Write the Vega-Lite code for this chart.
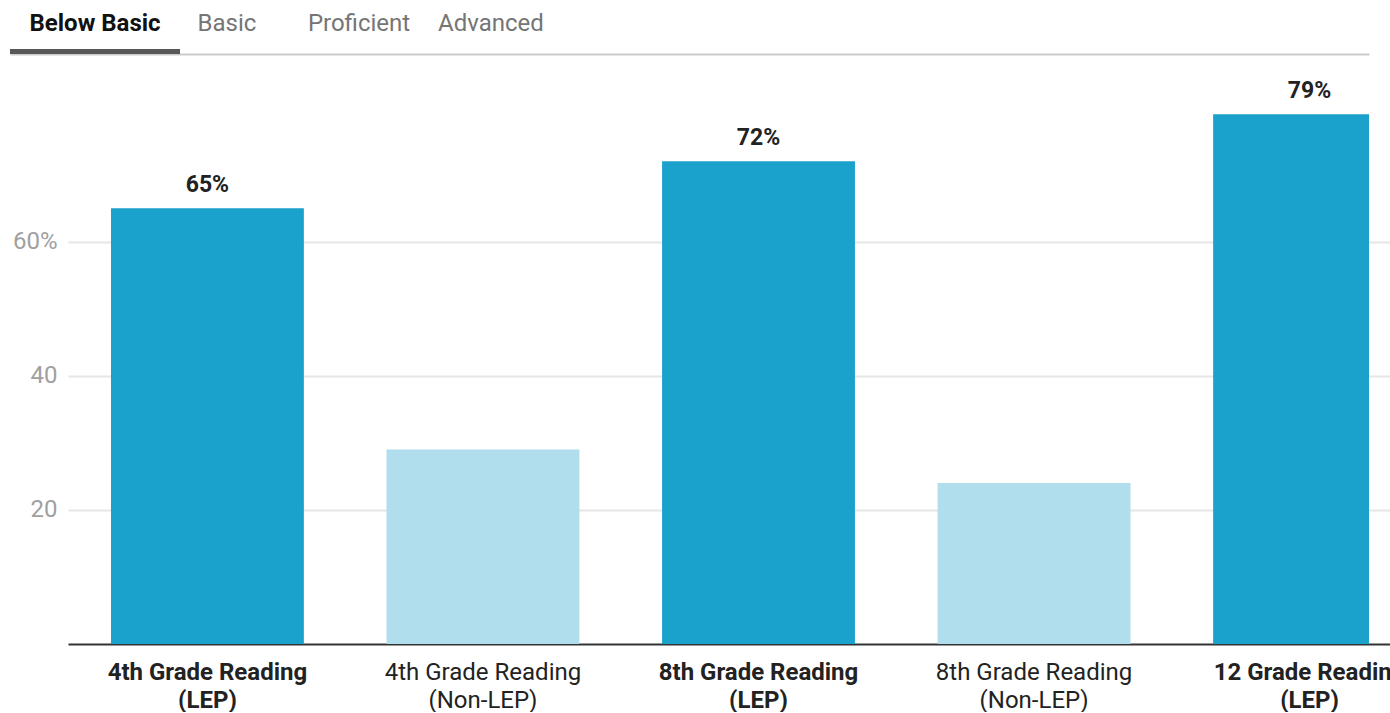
{
  "$schema": "https://vega.github.io/schema/vega-lite/v6.json",
  "padding": {"left": 10, "top": 0, "right": 0, "bottom": 0},
  "bounds": "flush",
  "spacing": 2,
  "config": {"view": {"stroke": null}, "font": "Roboto"},
  "datasets": {
    "tabs": [
      {"tab": "Below Basic", "selected": true},
      {"tab": "Basic", "selected": false},
      {"tab": "Proficient", "selected": false},
      {"tab": "Advanced", "selected": false}
    ],
    "scores": [
      {"category": "4th Grade Reading (LEP)", "group": "LEP", "value": 65},
      {"category": "4th Grade Reading (Non-LEP)", "group": "Non-LEP", "value": 29},
      {"category": "8th Grade Reading (LEP)", "group": "LEP", "value": 72},
      {"category": "8th Grade Reading (Non-LEP)", "group": "Non-LEP", "value": 24},
      {"category": "12 Grade Reading (LEP)", "group": "LEP", "value": 79}
    ]
  },
  "vconcat": [
    {
      "width": 1301,
      "height": 47,
      "data": {"name": "tabs"},
      "encoding": {
        "x": {
          "field": "tab", "type": "nominal", "sort": null, "axis": null,
          "scale": {"type": "band", "domain": ["Below Basic", "Basic", "Proficient", "Advanced"], "range": [-39, 489], "paddingInner": 0, "paddingOuter": 0}
        },
        "text": {"field": "tab"}
      },
      "layer": [
        {"transform": [{"filter": "datum.selected"}], "mark": {"type": "text", "fontSize": 24, "fontWeight": "bold", "color": "#111111", "baseline": "middle"}},
        {"transform": [{"filter": "!datum.selected"}], "mark": {"type": "text", "fontSize": 24, "color": "#757575", "baseline": "middle"}}
      ]
    },
    {
      "width": 1301,
      "height": 5,
      "data": {"name": "tabs"},
      "transform": [{"filter": "datum.selected"}],
      "mark": {"type": "bar", "color": "#585858"},
      "encoding": {
        "x": {
          "field": "tab", "type": "nominal", "sort": null,
          "scale": {"type": "band", "range": [-58, 1301], "paddingInner": 0.714, "paddingOuter": 1, "align": 0},
          "axis": {"title": null, "labels": false, "ticks": false, "grid": false, "domain": true, "domainColor": "#cccccc", "domainWidth": 2}
        }
      }
    },
    {
      "width": 1301,
      "height": 588,
      "data": {"name": "scores"},
      "encoding": {
        "y": {
          "field": "value", "type": "quantitative",
          "scale": {"domain": [0, 87.7], "nice": false, "zero": true},
          "axis": {
            "title": null, "values": [0, 20, 40, 60], "domain": false, "ticks": false,
            "labelFontSize": 24, "labelColor": "#a0a0a0", "labelPadding": 11,
            "labelExpr": "datum.value == 0 ? '' : datum.value == 60 ? '60%' : datum.label",
            "gridColor": {"condition": {"test": "datum.value === 0", "value": "#333333"}, "value": "#e6e6e6"},
            "gridWidth": 2
          }
        }
      },
      "layer": [
        {
          "mark": {"type": "bar", "clip": true},
          "encoding": {
            "x": {
              "field": "category", "type": "nominal", "sort": null,
              "scale": {"type": "band", "range": [0, 1381], "paddingInner": 0.3, "paddingOuter": 0.156},
              "axis": {
                "title": null, "domain": false, "ticks": false, "grid": false, "labelAngle": 0,
                "labelFontSize": 24, "labelColor": "#222222", "labelPadding": 16, "labelLimit": 0, "labelLineHeight": 28,
                "labelExpr": "[substring(datum.value, 0, indexof(datum.value, ' (')), substring(datum.value, indexof(datum.value, ' (') + 1)]",
                "labelFontWeight": {"condition": {"test": "indexof(datum.value, 'Non-LEP') < 0", "value": "bold"}, "value": "normal"}
              }
            },
            "color": {"field": "group", "type": "nominal", "scale": {"domain": ["LEP", "Non-LEP"], "range": ["#1aa1cc", "#b0deec"]}, "legend": null}
          }
        },
        {
          "transform": [{"filter": "datum.group == 'LEP'"}],
          "mark": {"type": "text", "fontSize": 23, "fontWeight": "bold", "color": "#222222", "baseline": "alphabetic", "dy": -16, "text": {"expr": "datum.value + '%'"}},
          "encoding": {
            "x": {"field": "category", "type": "nominal", "sort": null}
          }
        }
      ]
    }
  ]
}
